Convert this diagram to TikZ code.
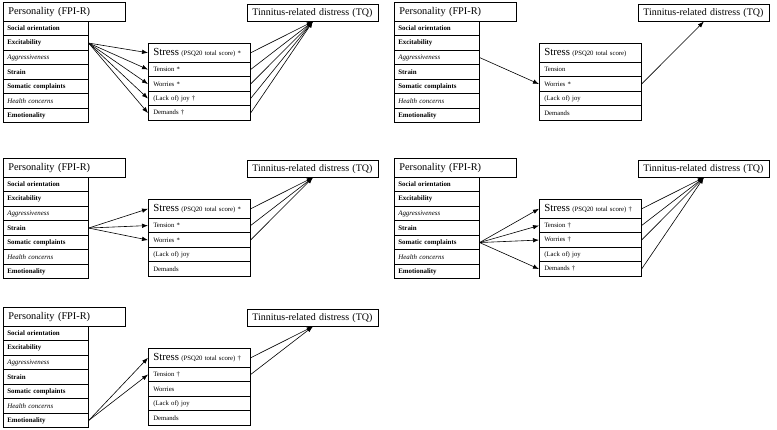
\documentclass[tikz,border=0pt]{standalone}
\usepackage{fontspec}
\setmainfont{Liberation Serif}
\usetikzlibrary{arrows.meta}
\tikzstyle{hd}=[draw,anchor=north west,inner xsep=5pt,inner ysep=0pt,align=left,font=\fontsize{10.3}{12}\selectfont]
\tikzstyle{tr}=[draw,anchor=north west,text width=77pt,inner xsep=4pt,inner ysep=0pt,minimum height=14.5pt,align=left,font=\fontsize{6.9}{8}\selectfont]
\tikzstyle{sr}=[draw,anchor=north west,text width=92pt,inner xsep=5pt,inner ysep=0pt,minimum height=14.5pt,align=left,font=\fontsize{6.7}{8}\selectfont]
% one block: #1 name, #2 #3 shift, #4-#8 marks of the stress rows
\newcommand{\drawpanel}[8]{%
\begin{scope}[shift={(#2,#3)}]
\node[hd,minimum height=19pt,text width=112pt] (#1p) at (3,2) {Personality (FPI-R)};
\node[tr] (#1t1) at (3,21) {\textbf{Social orientation}};
\node[tr] (#1t2) at (3,35.5) {\textbf{Excitability}};
\node[tr] (#1t3) at (3,50) {\textit{Aggressiveness}};
\node[tr] (#1t4) at (3,64.5) {\textbf{Strain}};
\node[tr] (#1t5) at (3,79) {\textbf{Somatic complaints}};
\node[tr] (#1t6) at (3,93.5) {\textit{Health concerns}};
\node[tr] (#1t7) at (3,108) {\textbf{Emotionality}};
\node[hd,minimum height=17pt,text width=125pt,inner xsep=3pt,font=\fontsize{10}{12}\selectfont] (#1q) at (247,4) {\hspace*{2pt}Tinnitus-related distress (TQ)};
\node[sr,minimum height=19pt] (#1s0) at (148,43) {{\fontsize{10.8}{12}\selectfont Stress} (PSQ20 total score) #4};
\node[sr] (#1s1) at (148,62) {Tension #5};
\node[sr] (#1s2) at (148,76.5) {Worries #6};
\node[sr] (#1s3) at (148,91) {(Lack of) joy #7};
\node[sr] (#1s4) at (148,105.5) {Demands #8};
\end{scope}}

\begin{document}
\begin{tikzpicture}[x=1pt,y=-1pt,line width=0.6pt,>={Latex[length=6pt,width=4.5pt]}]
\useasboundingbox (0,0) rectangle (777,430);
\drawpanel{a}{0}{0}{*}{*}{*}{\dag}{\dag}
\drawpanel{b}{391}{0}{}{}{*}{}{}
\drawpanel{c}{0}{156}{*}{*}{*}{}{}
\drawpanel{d}{391}{156}{\dag}{\dag}{\dag}{}{\dag}
\drawpanel{e}{0}{305}{\dag}{\dag}{}{}{}
% Excitability
\draw[->] (at2.east) -- (as0.west);
\draw[->] (at2.east) -- (as1.west);
\draw[->] (at2.east) -- (as2.west);
\draw[->] (at2.east) -- (as3.west);
\draw[->] (at2.east) -- (as4.west);
\draw[->] (as0.east) -- (aq.south);
\draw[->] (as1.east) -- (aq.south);
\draw[->] (as2.east) -- (aq.south);
\draw[->] (as3.east) -- (aq.south);
\draw[->] (as4.east) -- (aq.south);
% Aggressiveness
\draw[->] (bt3.east) -- (bs2.west);
\draw[->] (bs2.east) -- (bq.south);
% Strain
\draw[->] (ct4.east) -- (cs0.west);
\draw[->] (ct4.east) -- (cs1.west);
\draw[->] (ct4.east) -- (cs2.west);
\draw[->] (cs0.east) -- (cq.south);
\draw[->] (cs1.east) -- (cq.south);
\draw[->] (cs2.east) -- (cq.south);
% Somatic complaints
\draw[->] (dt5.east) -- (ds0.west);
\draw[->] (dt5.east) -- (ds1.west);
\draw[->] (dt5.east) -- (ds2.west);
\draw[->] (dt5.east) -- (ds4.west);
\draw[->] (ds0.east) -- (dq.south);
\draw[->] (ds1.east) -- (dq.south);
\draw[->] (ds2.east) -- (dq.south);
\draw[->] (ds4.east) -- (dq.south);
% Emotionality
\draw[->] (et7.east) -- (es0.west);
\draw[->] (et7.east) -- (es1.west);
\draw[->] (es0.east) -- (eq.south);
\draw[->] (es1.east) -- (eq.south);
\end{tikzpicture}
\end{document}
